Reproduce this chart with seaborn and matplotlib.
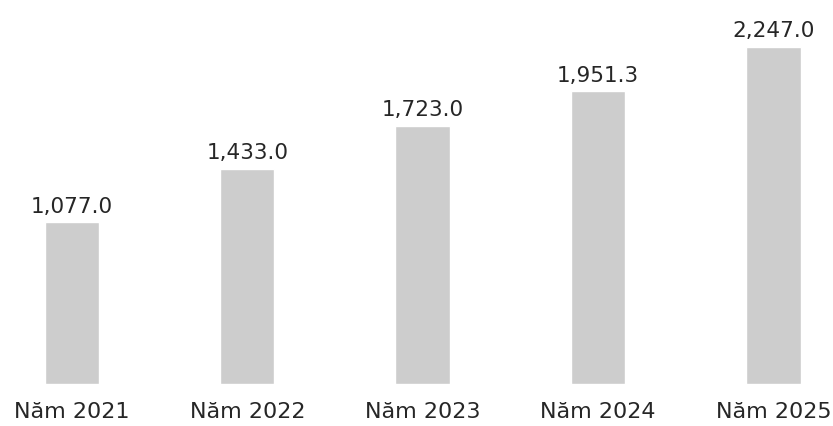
import matplotlib
matplotlib.use("Agg")
import matplotlib.pyplot as plt
import seaborn as sns

# data
years = ["Năm 2021", "Năm 2022", "Năm 2023", "Năm 2024", "Năm 2025"]
values = [1077.0, 1433.0, 1723.0, 1951.3, 2247.0]

sns.set_style("white")
plt.rcParams["font.family"] = ["DejaVu Sans"]

fig = plt.figure(figsize=(8.33, 4.26), dpi=100)
ax = fig.add_axes([0, 42 / 426, 1, 384 / 426])

sns.barplot(x=years, y=values, color="#cdcdcd", width=0.31, saturation=1, ax=ax)

# value labels above bars
for i, v in enumerate(values):
    ax.text(i, v + 65, f"{v:,.1f}", ha="center", va="baseline",
            fontsize=15.5, color="#262626")

ax.set_xlim(-0.41, 4.34)
ax.set_ylim(0, 2560)
ax.set_yticks([])
ax.tick_params(axis="x", length=0, pad=13, labelsize=16, labelcolor="#262626")
sns.despine(ax=ax, left=True, bottom=True)
ax.set_xlabel("")
ax.set_ylabel("")

fig.savefig("out.png", dpi=100)
